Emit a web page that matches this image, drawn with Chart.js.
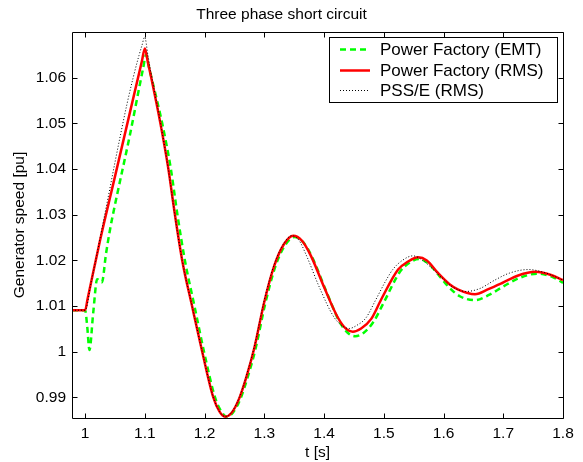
<!DOCTYPE html>
<html>
<head>
<meta charset="utf-8">
<script src="https://cdn.jsdelivr.net/npm/chart.js@4"></script>
<style>
html,body{margin:0;padding:0;background:#fff;}
#wrap{width:583px;height:462px;}
</style>
</head>
<body>
<div id="wrap"><canvas id="c" width="583" height="462"></canvas></div>
<script>
// ---- data ----
const chartTitle = 'Three phase short circuit';
const xTitle = 't [s]';
const yTitle = 'Generator speed [pu]';
const seriesLabels = ['Power Factory (EMT)', 'Power Factory (RMS)', 'PSS/E (RMS)'];

const xTicks = [1, 1.1, 1.2, 1.3, 1.4, 1.5, 1.6, 1.7, 1.8];
const xTickLabels = ['1', '1.1', '1.2', '1.3', '1.4', '1.5', '1.6', '1.7', '1.8'];
const yTicks = [0.99, 1, 1.01, 1.02, 1.03, 1.04, 1.05, 1.06];
const yTickLabels = ['0.99', '1', '1.01', '1.02', '1.03', '1.04', '1.05', '1.06'];

const tEMT = [0.978, 1.0, 1.0035, 1.0072, 1.0135, 1.0202, 1.028, 1.035, 1.042, 1.05, 1.075, 1.097, 1.102, 1.107, 1.112, 1.129, 1.1435, 1.1545, 1.167, 1.183, 1.199, 1.2175, 1.228, 1.237, 1.247, 1.26, 1.272, 1.285, 1.302, 1.3185, 1.335, 1.3505, 1.365, 1.380, 1.4025, 1.425, 1.44, 1.452, 1.466, 1.483, 1.50, 1.527, 1.543, 1.559, 1.575, 1.593, 1.61, 1.628, 1.6527, 1.677, 1.70, 1.728, 1.757, 1.78, 1.8];
const vEMT = [1.0091, 1.0091, 1.0055, 1.0004, 1.0085, 1.0159, 1.0152, 1.0215, 1.0270, 1.0322, 1.0475, 1.0620, 1.0650, 1.0622, 1.0595, 1.0500, 1.0400, 1.0300, 1.0200, 1.0100, 1.0000, 0.9900, 0.9869, 0.9858, 0.9866, 0.9897, 0.9944, 1.0005, 1.0108, 1.0187, 1.0234, 1.0251, 1.0240, 1.0207, 1.0136, 1.0068, 1.0041, 1.0034, 1.0041, 1.0066, 1.0108, 1.0175, 1.0195, 1.0203, 1.0193, 1.0166, 1.0140, 1.0121, 1.0113, 1.0125, 1.0143, 1.0162, 1.0171, 1.0165, 1.0151];

const tRMS = [0.978, 1.0, 1.004, 1.025, 1.05, 1.075, 1.095, 1.1, 1.105, 1.11, 1.126, 1.139, 1.15, 1.1625, 1.179, 1.196, 1.2146, 1.225, 1.2345, 1.245, 1.258, 1.27, 1.283, 1.2997, 1.3165, 1.333, 1.3484, 1.363, 1.378, 1.4005, 1.423, 1.437, 1.448, 1.462, 1.479, 1.4958, 1.524, 1.54, 1.5574, 1.572, 1.591, 1.61, 1.6247, 1.6527, 1.675, 1.6975, 1.725, 1.7535, 1.78, 1.8];
const vRMS = [1.0091, 1.0091, 1.0115, 1.0244, 1.0384, 1.0524, 1.0636, 1.0664, 1.0634, 1.0604, 1.0500, 1.0403, 1.0303, 1.0200, 1.0100, 1.0000, 0.9900, 0.9869, 0.9858, 0.9866, 0.9898, 0.9945, 1.0007, 1.0108, 1.0188, 1.0236, 1.0254, 1.0243, 1.0210, 1.0140, 1.0075, 1.0050, 1.0044, 1.0051, 1.0072, 1.0115, 1.0180, 1.0197, 1.0207, 1.0200, 1.0172, 1.0148, 1.0136, 1.0126, 1.0137, 1.0150, 1.0167, 1.0175, 1.0168, 1.0157];

const tPSSE = [0.978, 1.0, 1.01, 1.02, 1.03, 1.04, 1.05, 1.06, 1.07, 1.08, 1.09, 1.095, 1.0997, 1.105, 1.11, 1.126, 1.139, 1.15, 1.1625, 1.179, 1.196, 1.2146, 1.225, 1.2345, 1.245, 1.258, 1.27, 1.283, 1.2997, 1.3165, 1.333, 1.346, 1.358, 1.37, 1.3925, 1.416, 1.43, 1.442, 1.455, 1.470, 1.487, 1.504, 1.515, 1.531, 1.549, 1.565, 1.5966, 1.615, 1.637, 1.66, 1.686, 1.71, 1.742, 1.77, 1.8];
const vPSSE = [1.0091, 1.0091, 1.0152, 1.0215, 1.0282, 1.0348, 1.0415, 1.0480, 1.0542, 1.0598, 1.0648, 1.0670, 1.0689, 1.0650, 1.0612, 1.0502, 1.0402, 1.0300, 1.0200, 1.0100, 1.0000, 0.9900, 0.9869, 0.9858, 0.9867, 0.9900, 0.9948, 1.0010, 1.0112, 1.0191, 1.0238, 1.0254, 1.0244, 1.0212, 1.0140, 1.0077, 1.0057, 1.0051, 1.0058, 1.0074, 1.0115, 1.0157, 1.0180, 1.0200, 1.0210, 1.0200, 1.0163, 1.0142, 1.0132, 1.0138, 1.0157, 1.0172, 1.0180, 1.0173, 1.0157];

const xRange = [0.978, 1.8];
const yRange = [0.9855, 1.0700];

// ---- chart ----
const FONT = '"Liberation Sans", Arial, Helvetica, sans-serif';
const pts = (t, v) => t.map((x, i) => ({x: x, y: v[i]}));

const frame = {
  id: 'frame',
  afterDatasetsDraw(chart) {
    const ctx = chart.ctx, a = chart.chartArea;
    const xs = chart.scales.x, ys = chart.scales.y;
    ctx.save();
    ctx.strokeStyle = '#000';
    ctx.lineWidth = 1;
    ctx.beginPath();
    const L = Math.round(a.left) + 0.5, R = Math.round(a.right) + 0.5;
    const T = Math.round(a.top) + 0.5, B = Math.round(a.bottom) + 0.5;
    ctx.rect(L, T, R - L, B - T);
    const tl = 5;
    xTicks.forEach(v => {
      const px = Math.round(xs.getPixelForValue(v)) + 0.5;
      ctx.moveTo(px, B); ctx.lineTo(px, B - tl);
      ctx.moveTo(px, T); ctx.lineTo(px, T + tl);
    });
    yTicks.forEach(v => {
      const py = Math.round(ys.getPixelForValue(v)) + 0.5;
      ctx.moveTo(L, py); ctx.lineTo(L + tl, py);
      ctx.moveTo(R, py); ctx.lineTo(R - tl, py);
    });
    ctx.stroke();
    ctx.restore();
  },
  afterDraw(chart) {
    // legend box inside the plot (upper right)
    const ctx = chart.ctx;
    const ds = chart.data.datasets;
    const bx = 329.5, by = 37.5, bw = 228, bh = 65;
    ctx.save();
    ctx.fillStyle = '#fff';
    ctx.fillRect(bx, by, bw, bh);
    ctx.strokeStyle = '#000';
    ctx.lineWidth = 1;
    ctx.setLineDash([]);
    ctx.strokeRect(bx, by, bw, bh);
    ctx.font = '17px ' + FONT;
    ctx.textBaseline = 'middle';
    ctx.textAlign = 'left';
    const rows = [49, 70, 90];
    ds.forEach((d, i) => {
      const y = rows[i] + 0.5;
      ctx.beginPath();
      ctx.strokeStyle = d.borderColor;
      ctx.lineWidth = d.borderWidth;
      ctx.setLineDash(d.borderDash || []);
      ctx.moveTo(340, y); ctx.lineTo(370, y);
      ctx.stroke();
      ctx.setLineDash([]);
      ctx.fillStyle = '#000';
      ctx.fillText(d.label, 380, rows[i] + 1);
    });
    ctx.restore();
  }
};

new Chart(document.getElementById('c'), {
  type: 'line',
  data: {
    datasets: [
      {label: seriesLabels[0], data: pts(tEMT, vEMT), borderColor: '#00ff00', borderWidth: 2.5, borderDash: [6, 4], order: 3},
      {label: seriesLabels[1], data: pts(tRMS, vRMS), borderColor: '#ff0000', borderWidth: 2.5, order: 2},
      {label: seriesLabels[2], data: pts(tPSSE, vPSSE), borderColor: '#000000', borderWidth: 1, borderDash: [1, 2], order: 1}
    ]
  },
  options: {
    responsive: false,
    animation: false,
    elements: {point: {radius: 0}, line: {cubicInterpolationMode: 'monotone', fill: false}},
    layout: {padding: {left: 0, right: 20, top: 0, bottom: 0}},
    plugins: {
      legend: {display: false},
      tooltip: {enabled: false},
      title: {display: true, text: chartTitle, color: '#000', font: {family: FONT, size: 15.5, weight: 'normal'}, padding: {top: 5, bottom: 8.4}}
    },
    scales: {
      x: {
        type: 'linear', min: xRange[0], max: xRange[1],
        grid: {display: false, drawTicks: false},
        border: {display: false},
        afterBuildTicks: s => { s.ticks = xTicks.map(v => ({value: v})); },
        afterFit: s => { s.height = 44; },
        ticks: {color: '#000', padding: 6, maxRotation: 0, autoSkip: false, font: {family: FONT, size: 15.5},
                callback: (v, i) => xTickLabels[i]},
        title: {display: true, text: xTitle, color: '#000', font: {family: FONT, size: 15.5}, padding: {top: 0, bottom: 0}}
      },
      y: {
        type: 'linear', min: yRange[0], max: yRange[1],
        grid: {display: false, drawTicks: false},
        border: {display: false},
        afterBuildTicks: s => { s.ticks = yTicks.map(v => ({value: v})); },
        afterFit: s => { s.width = 72; },
        ticks: {color: '#000', padding: 6, autoSkip: false, font: {family: FONT, size: 15.5},
                callback: (v, i) => yTickLabels[i]},
        title: {display: true, text: yTitle, color: '#000', font: {family: FONT, size: 15.5}, padding: {top: 10, bottom: 0}}
      }
    }
  },
  plugins: [frame]
});
</script>
</body>
</html>
